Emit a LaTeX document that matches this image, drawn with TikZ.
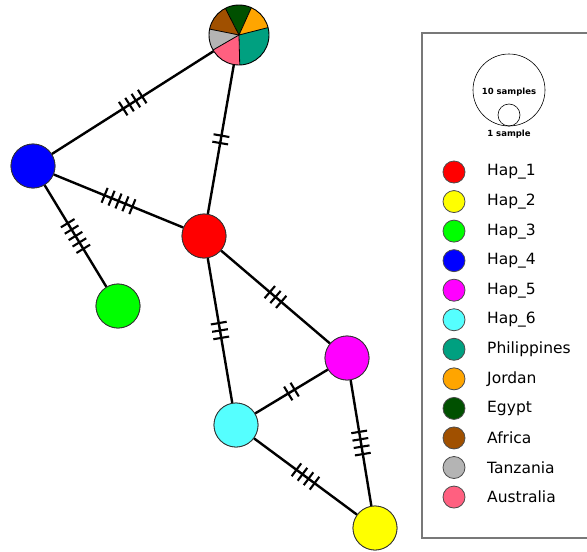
\documentclass[tikz,border=0pt]{standalone}
\usepackage{fontspec}
\setmainfont{DejaVu Sans}
\usetikzlibrary{decorations.markings}
\definecolor{hapA}{RGB}{255,0,0}
\definecolor{hapB}{RGB}{255,255,0}
\definecolor{hapC}{RGB}{0,255,0}
\definecolor{hapD}{RGB}{0,0,255}
\definecolor{hapE}{RGB}{255,0,255}
\definecolor{hapF}{RGB}{85,255,255}
\definecolor{cPhil}{RGB}{0,160,128}
\definecolor{cJord}{RGB}{255,165,0}
\definecolor{cEgy}{RGB}{0,80,0}
\definecolor{cAfr}{RGB}{160,80,0}
\definecolor{cTanz}{RGB}{180,180,180}
\definecolor{cAus}{RGB}{255,96,128}
\definecolor{boxgray}{RGB}{120,120,120}
\begin{document}
\begin{tikzpicture}[x=1pt,y=-1pt,
  hap/.style={circle,draw=black!80,line width=0.8pt,minimum size=44pt,inner sep=0pt},
  leg/.style={circle,draw=black!70,line width=0.8pt,minimum size=22pt,inner sep=0pt},
  legtext/.style={anchor=west,font=\fontsize{15.5}{18}\selectfont,inner sep=0pt},
  edge/.style={line width=2.4pt,black},
  mut/.style={postaction={decorate,decoration={markings,mark=at position 0.5 with {\foreach \i in {1,...,#1} {\draw[line width=2.1pt] ({(\i-(#1+1)/2)*7.5pt},-8pt) -- ({(\i-(#1+1)/2)*7.5pt},8pt);}}}}}
]
\useasboundingbox (0,0) rectangle (587,552);
\fill[white] (0,0) rectangle (587,552);
% nodes
\node[hap,fill=hapD] (h4) at (33,166) {};
\node[hap,fill=hapA] (h1) at (204,236) {};
\node[hap,fill=hapC] (h3) at (118,306) {};
\node[hap,fill=hapE] (h5) at (347,358) {};
\node[hap,fill=hapF] (h6) at (236,425) {};
\node[hap,fill=hapB] (h2) at (375,528) {};
\node[circle,minimum size=60pt,inner sep=0pt] (pie) at (239,35) {};
% edges
\draw[edge,mut=4] (pie) -- (h4);
\draw[edge,mut=2] (pie) -- (h1);
\draw[edge,mut=5] (h4) -- (h1);
\draw[edge,mut=5] (h4) -- (h3);
\draw[edge,mut=3] (h1) -- (h5);
\draw[edge,mut=3] (h1) -- (h6);
\draw[edge,mut=2] (h6) -- (h5);
\draw[edge,mut=4] (h6) -- (h2);
\draw[edge,mut=4] (h5) -- (h2);
% redraw nodes on top
\node[hap,fill=hapD] at (h4) {};
\node[hap,fill=hapA] at (h1) {};
\node[hap,fill=hapC] at (h3) {};
\node[hap,fill=hapE] at (h5) {};
\node[hap,fill=hapF] at (h6) {};
\node[hap,fill=hapB] at (h2) {};
% pie
\begin{scope}[shift={(pie.center)},y=1pt]
\fill[cEgy] (0,0) -- (117.1:30) arc[start angle=117.1,end angle=65.7,radius=30] -- cycle;
\fill[cJord] (0,0) -- (65.7:30) arc[start angle=65.7,end angle=14.3,radius=30] -- cycle;
\fill[cPhil] (0,0) -- (14.3:30) arc[start angle=14.3,end angle=-88.6,radius=30] -- cycle;
\fill[cAus] (0,0) -- (-88.6:30) arc[start angle=-88.6,end angle=-150,radius=30] -- cycle;
\fill[cTanz] (0,0) -- (-150:30) arc[start angle=-150,end angle=-191.4,radius=30] -- cycle;
\fill[cAfr] (0,0) -- (168.6:30) arc[start angle=168.6,end angle=117.1,radius=30] -- cycle;
\foreach \a in {117.1,65.7,14.3,-88.6,-150,168.6} \draw[line width=0.8pt] (0,0) -- (\a:30);
\draw[line width=0.9pt] (0,0) circle[radius=30];
\end{scope}
% legend box
\draw[boxgray,line width=1.5pt] (422,33) rectangle (600,538);
\node[circle,draw=black,line width=0.6pt,minimum size=72pt,inner sep=0pt] (big) at (509,90) {};
\node[circle,draw=black,line width=0.6pt,minimum size=22pt,inner sep=0pt] (small) at (509,115) {};
\node[font=\fontsize{8.5}{10}\selectfont\bfseries,inner sep=0pt] (t10) at (509,92) {10 samples};
\node[font=\fontsize{8.5}{10}\selectfont\bfseries,inner sep=0pt] (t1) at (509,134) {1 sample};
\foreach \c/\t [count=\k from 0] in {hapA/Hap\_1,hapB/Hap\_2,hapC/Hap\_3,hapD/Hap\_4,hapE/Hap\_5,hapF/Hap\_6,cPhil/Philippines,cJord/Jordan,cEgy/Egypt,cAfr/Africa,cTanz/Tanzania,cAus/Australia}{
  \node[leg,fill=\c] (l\k) at (454,{172+29.55*\k}) {};
  \node[legtext] (lt\k) at (487,{172+29.55*\k}) {\t};
}
\end{tikzpicture}
\end{document}
